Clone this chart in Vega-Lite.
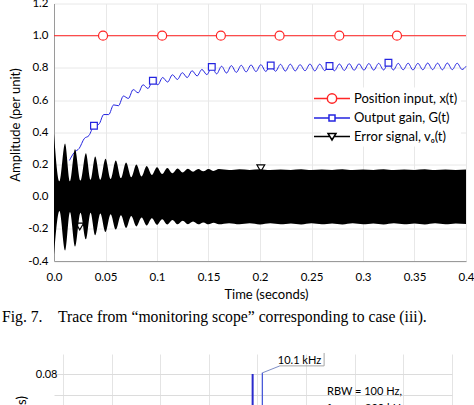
{
  "$schema": "https://vega.github.io/schema/vega-lite/v6.json",
  "autosize": {"type": "none"},
  "padding": {"left": 54, "top": 3.5, "right": 420, "bottom": 401.5},
  "background": "white",
  "bounds": "flush",
  "spacing": 92.5,
  "datasets": {
    "input": [{"t": 0, "amp": 1}, {"t": 0.4, "amp": 1}],
    "gain": [
      {"t": 0.0150, "amp": 0.225}, {"t": 0.0197, "amp": 0.275}, {"t": 0.0245, "amp": 0.30}, {"t": 0.0293, "amp": 0.36},
      {"t": 0.0340, "amp": 0.38}, {"t": 0.0388, "amp": 0.44}, {"t": 0.0436, "amp": 0.45}, {"t": 0.0483, "amp": 0.51},
      {"t": 0.0531, "amp": 0.51}, {"t": 0.0579, "amp": 0.57}, {"t": 0.0626, "amp": 0.565}, {"t": 0.0674, "amp": 0.625},
      {"t": 0.0722, "amp": 0.61}, {"t": 0.0769, "amp": 0.665}, {"t": 0.0817, "amp": 0.645}, {"t": 0.0865, "amp": 0.695},
      {"t": 0.0912, "amp": 0.672}, {"t": 0.0960, "amp": 0.72}, {"t": 0.1008, "amp": 0.695}, {"t": 0.1055, "amp": 0.74},
      {"t": 0.1103, "amp": 0.712}, {"t": 0.1150, "amp": 0.757}, {"t": 0.1198, "amp": 0.728}, {"t": 0.1246, "amp": 0.77},
      {"t": 0.1293, "amp": 0.74}, {"t": 0.1341, "amp": 0.782}, {"t": 0.1389, "amp": 0.75}, {"t": 0.1436, "amp": 0.79},
      {"t": 0.1484, "amp": 0.758}, {"t": 0.1532, "amp": 0.806}, {"t": 0.1579, "amp": 0.763}, {"t": 0.1627, "amp": 0.81},
      {"t": 0.1675, "amp": 0.768}, {"t": 0.1722, "amp": 0.814}, {"t": 0.1770, "amp": 0.772}, {"t": 0.1818, "amp": 0.816},
      {"t": 0.1865, "amp": 0.775}, {"t": 0.1913, "amp": 0.818}, {"t": 0.1961, "amp": 0.777}, {"t": 0.2008, "amp": 0.82},
      {"t": 0.2056, "amp": 0.778}, {"t": 0.2104, "amp": 0.815}, {"t": 0.2151, "amp": 0.779}, {"t": 0.2199, "amp": 0.822},
      {"t": 0.2246, "amp": 0.78}, {"t": 0.2294, "amp": 0.823}, {"t": 0.2342, "amp": 0.781}, {"t": 0.2389, "amp": 0.82},
      {"t": 0.2437, "amp": 0.782}, {"t": 0.2485, "amp": 0.824}, {"t": 0.2532, "amp": 0.781}, {"t": 0.2580, "amp": 0.823},
      {"t": 0.2628, "amp": 0.783}, {"t": 0.2675, "amp": 0.812}, {"t": 0.2723, "amp": 0.782}, {"t": 0.2771, "amp": 0.824},
      {"t": 0.2818, "amp": 0.784}, {"t": 0.2866, "amp": 0.826}, {"t": 0.2914, "amp": 0.785}, {"t": 0.2961, "amp": 0.825},
      {"t": 0.3009, "amp": 0.786}, {"t": 0.3057, "amp": 0.827}, {"t": 0.3104, "amp": 0.786}, {"t": 0.3152, "amp": 0.828},
      {"t": 0.3200, "amp": 0.787}, {"t": 0.3247, "amp": 0.832}, {"t": 0.3295, "amp": 0.787}, {"t": 0.3342, "amp": 0.828},
      {"t": 0.3390, "amp": 0.788}, {"t": 0.3438, "amp": 0.829}, {"t": 0.3485, "amp": 0.787}, {"t": 0.3533, "amp": 0.828},
      {"t": 0.3581, "amp": 0.788}, {"t": 0.3628, "amp": 0.83}, {"t": 0.3676, "amp": 0.789}, {"t": 0.3724, "amp": 0.829},
      {"t": 0.3771, "amp": 0.788}, {"t": 0.3819, "amp": 0.83}, {"t": 0.3867, "amp": 0.789}, {"t": 0.3914, "amp": 0.829},
      {"t": 0.3962, "amp": 0.79}, {"t": 0.4000, "amp": 0.81}
    ],
    "envelope": [
      {"t": 0.000, "amp": 0.39, "lo": -0.36}, {"t": 0.0053, "amp": 0.095, "lo": -0.09},
      {"t": 0.0107, "amp": 0.33, "lo": -0.335}, {"t": 0.0155, "amp": 0.095, "lo": -0.095},
      {"t": 0.0204, "amp": 0.295, "lo": -0.31}, {"t": 0.0257, "amp": 0.10, "lo": -0.10},
      {"t": 0.0310, "amp": 0.27, "lo": -0.265}, {"t": 0.0355, "amp": 0.105, "lo": -0.10},
      {"t": 0.0400, "amp": 0.25, "lo": -0.24}, {"t": 0.0450, "amp": 0.105, "lo": -0.105},
      {"t": 0.0500, "amp": 0.235, "lo": -0.22}, {"t": 0.0550, "amp": 0.11, "lo": -0.11},
      {"t": 0.0600, "amp": 0.225, "lo": -0.205}, {"t": 0.0650, "amp": 0.115, "lo": -0.115},
      {"t": 0.0700, "amp": 0.212, "lo": -0.195}, {"t": 0.0750, "amp": 0.12, "lo": -0.12},
      {"t": 0.0800, "amp": 0.20, "lo": -0.185}, {"t": 0.0850, "amp": 0.125, "lo": -0.13},
      {"t": 0.0900, "amp": 0.19, "lo": -0.18}, {"t": 0.0950, "amp": 0.135, "lo": -0.135},
      {"t": 0.1000, "amp": 0.183, "lo": -0.175}, {"t": 0.1050, "amp": 0.14, "lo": -0.14},
      {"t": 0.1100, "amp": 0.178, "lo": -0.173}, {"t": 0.1150, "amp": 0.145, "lo": -0.145},
      {"t": 0.1200, "amp": 0.175, "lo": -0.172}, {"t": 0.1250, "amp": 0.15, "lo": -0.15},
      {"t": 0.1300, "amp": 0.173, "lo": -0.172}, {"t": 0.1350, "amp": 0.155, "lo": -0.155},
      {"t": 0.1400, "amp": 0.172, "lo": -0.172}, {"t": 0.1450, "amp": 0.158, "lo": -0.16},
      {"t": 0.1500, "amp": 0.172, "lo": -0.172}, {"t": 0.1550, "amp": 0.16, "lo": -0.162},
      {"t": 0.1600, "amp": 0.171, "lo": -0.172}, {"t": 0.17, "amp": 0.165, "lo": -0.165},
      {"t": 0.18, "amp": 0.170, "lo": -0.172}, {"t": 0.19, "amp": 0.166, "lo": -0.166},
      {"t": 0.20, "amp": 0.170, "lo": -0.173}, {"t": 0.21, "amp": 0.165, "lo": -0.166},
      {"t": 0.22, "amp": 0.169, "lo": -0.172}, {"t": 0.23, "amp": 0.166, "lo": -0.167},
      {"t": 0.24, "amp": 0.170, "lo": -0.173}, {"t": 0.25, "amp": 0.165, "lo": -0.166},
      {"t": 0.26, "amp": 0.169, "lo": -0.172}, {"t": 0.27, "amp": 0.166, "lo": -0.167},
      {"t": 0.28, "amp": 0.170, "lo": -0.173}, {"t": 0.29, "amp": 0.165, "lo": -0.166},
      {"t": 0.30, "amp": 0.169, "lo": -0.172}, {"t": 0.31, "amp": 0.166, "lo": -0.167},
      {"t": 0.32, "amp": 0.170, "lo": -0.173}, {"t": 0.33, "amp": 0.165, "lo": -0.166},
      {"t": 0.34, "amp": 0.169, "lo": -0.172}, {"t": 0.35, "amp": 0.166, "lo": -0.167},
      {"t": 0.36, "amp": 0.170, "lo": -0.173}, {"t": 0.37, "amp": 0.165, "lo": -0.166},
      {"t": 0.38, "amp": 0.169, "lo": -0.172}, {"t": 0.39, "amp": 0.166, "lo": -0.167},
      {"t": 0.40, "amp": 0.168, "lo": -0.170}
    ],
    "markers": [
      {"key": "x", "series": "Position input, x(t)", "t": 0.0476, "amp": 1},
      {"key": "x", "series": "Position input, x(t)", "t": 0.105, "amp": 1},
      {"key": "x", "series": "Position input, x(t)", "t": 0.162, "amp": 1},
      {"key": "x", "series": "Position input, x(t)", "t": 0.219, "amp": 1},
      {"key": "x", "series": "Position input, x(t)", "t": 0.277, "amp": 1},
      {"key": "x", "series": "Position input, x(t)", "t": 0.333, "amp": 1},
      {"key": "G", "series": "Output gain, G(t)", "t": 0.0388, "amp": 0.44},
      {"key": "G", "series": "Output gain, G(t)", "t": 0.096, "amp": 0.72},
      {"key": "G", "series": "Output gain, G(t)", "t": 0.1532, "amp": 0.806},
      {"key": "G", "series": "Output gain, G(t)", "t": 0.2104, "amp": 0.815},
      {"key": "G", "series": "Output gain, G(t)", "t": 0.2675, "amp": 0.812},
      {"key": "G", "series": "Output gain, G(t)", "t": 0.3247, "amp": 0.832},
      {"key": "v", "series": "Error signal, vₒ(t)", "t": 0.025, "amp": -0.186},
      {"key": "v", "series": "Error signal, vₒ(t)", "t": 0.0836, "amp": 0.03},
      {"key": "v", "series": "Error signal, vₒ(t)", "t": 0.1422, "amp": -0.06},
      {"key": "v", "series": "Error signal, vₒ(t)", "t": 0.2008, "amp": 0.176},
      {"key": "v", "series": "Error signal, vₒ(t)", "t": 0.2594, "amp": 0.08},
      {"key": "v", "series": "Error signal, vₒ(t)", "t": 0.318, "amp": -0.09},
      {"key": "v", "series": "Error signal, vₒ(t)", "t": 0.3766, "amp": 0.04}
    ],
    "spikes": [
      {"freq": 9.9, "amp": 0.0803, "which": "a"},
      {"freq": 10.1, "amp": 0.0808, "which": "b"}
    ],
    "callout": [
      {"part": "leader", "freq": 10.1, "amp": 0.0808, "freq2": 10.46, "amp2": 0.0842},
      {"part": "box", "freq": 10.46, "amp": 0.0842, "freq2": 11.37, "amp2": 0.0842},
      {"part": "box", "freq": 11.37, "amp": 0.0842, "freq2": 11.37, "amp2": 0.0905}
    ],
    "notes": [
      {"side": "right", "freq": 11.31, "amp": 0.0868, "label": "10.1 kHz"},
      {"side": "left", "freq": 11.43, "amp": 0.0714, "label": "RBW = 100 Hz,"},
      {"side": "left", "freq": 11.43, "amp": 0.0631, "label": "fₛₐₘₚₗₑ = 800 kHz"}
    ]
  },
  "vconcat": [
    {
      "width": 412,
      "height": 257.5,
      "encoding": {
        "x": {
          "field": "t", "type": "quantitative",
          "scale": {"domain": [0, 0.4], "nice": false, "zero": false},
          "axis": {
            "title": "Time (seconds)",
            "values": [0, 0.05, 0.1, 0.15, 0.2, 0.25, 0.3, 0.35, 0.4],
            "labelExpr": "datum.value === 0 ? '0.0' : format(datum.value, '~g')",
            "labelFlush": false, "labelOverlap": false,
            "labelFontSize": 11.5, "labelPadding": 10.5,
            "ticks": false, "tickSize": 0,
            "domainColor": "#9a9a9a",
            "grid": true, "gridColor": "#e8e8e8",
            "titleFontSize": 13, "titleX": 212, "titleY": 33,
            "titleAlign": "center", "titleBaseline": "middle"
          }
        },
        "y": {
          "field": "amp", "type": "quantitative",
          "scale": {"domain": [-0.4, 1.2], "nice": false, "zero": false},
          "axis": {
            "title": "Amplitude (per unit)",
            "values": [-0.4, -0.2, 0, 0.2, 0.4, 0.6, 0.8, 1, 1.2],
            "labelExpr": "replace(format(datum.value, '.1f'), '\u2212', '-')",
            "labelFontSize": 11.5, "labelPadding": 6,
            "ticks": false, "tickSize": 0,
            "domainColor": "#9a9a9a",
            "grid": true, "gridColor": "#e8e8e8",
            "titleFontSize": 13, "titleX": -39, "titleY": 121, "titleAngle": -90,
            "titleAlign": "center", "titleBaseline": "middle"
          }
        }
      },
      "layer": [
        {
          "data": {"name": "gain"},
          "mark": {"type": "line", "color": "#2424e0", "strokeWidth": 1, "interpolate": "monotone"}
        },
        {
          "data": {"name": "input"},
          "mark": {"type": "line", "color": "#ff2626", "strokeWidth": 1}
        },
        {
          "data": {"name": "markers"},
          "transform": [{"filter": "datum.key === 'x'"}],
          "mark": {"type": "point", "shape": "circle", "size": 81, "filled": true, "fill": "white", "stroke": "#ff2626", "strokeWidth": 1.2, "opacity": 1}
        },
        {
          "data": {"name": "markers"},
          "transform": [{"filter": "datum.key === 'G'"}],
          "mark": {"type": "point", "shape": "square", "size": 45, "filled": true, "fill": "white", "stroke": "#2424e0", "strokeWidth": 1.2, "opacity": 1}
        },
        {
          "data": {"name": "markers"},
          "transform": [{"filter": "datum.key === 'v'"}],
          "mark": {"type": "point", "shape": "triangle-down", "size": 60, "filled": true, "fill": "white", "stroke": "#000000", "strokeWidth": 1.2, "opacity": 1}
        },
        {
          "data": {"name": "envelope"},
          "mark": {"type": "area", "color": "#000000", "interpolate": "monotone", "opacity": 1},
          "encoding": {"y2": {"field": "lo"}}
        },
        {
          "data": {"name": "markers"},
          "transform": [{"filter": "false"}],
          "mark": {"type": "point", "filled": true, "fill": "white", "strokeWidth": 1.5, "opacity": 1},
          "encoding": {
            "stroke": {
              "field": "series", "type": "nominal",
              "scale": {
                "domain": ["Position input, x(t)", "Output gain, G(t)", "Error signal, vₒ(t)"],
                "range": ["#ff2626", "#2424e0", "#000000"]
              },
              "legend": {
                "orient": "none", "legendX": 267, "legendY": 84, "title": null,
                "symbolSize": 196, "symbolStrokeWidth": 1.5, "symbolFillColor": "white",
                "labelFont": "Lato", "labelFontSize": 13, "labelColor": "#000000",
                "labelOffset": 14, "rowPadding": 3.5, "padding": 3, "fillColor": "white",
                "encode": {"symbols": {"update": {"fill": {"value": "white"}, "strokeWidth": {"value": 1.5}, "opacity": {"value": 1}}}}
              }
            },
            "shape": {
              "field": "series", "type": "nominal",
              "scale": {
                "domain": ["Position input, x(t)", "Output gain, G(t)", "Error signal, vₒ(t)"],
                "range": [
                  "M-2.57,0H-0.67M0.67,0H2.57M0.67,0A0.67,0.67,0,1,1,-0.67,0A0.67,0.67,0,1,1,0.67,0Z",
                  "M-2.57,0H-0.43M0.43,0H2.57M-0.43,-0.43H0.43V0.43H-0.43Z",
                  "M-2.57,0H-0.35M0.35,0H2.57M-0.57,-0.43H0.57L0,0.5Z"
                ]
              },
              "legend": {
                "orient": "none", "legendX": 267, "legendY": 84, "title": null,
                "symbolSize": 196, "symbolStrokeWidth": 1.5, "symbolFillColor": "white",
                "labelFont": "Lato", "labelFontSize": 13, "labelColor": "#000000",
                "labelOffset": 14, "rowPadding": 3.5, "padding": 3, "fillColor": "white",
                "encode": {"symbols": {"update": {"fill": {"value": "white"}, "strokeWidth": {"value": 1.5}, "opacity": {"value": 1}}}}
              }
            }
          }
        }
      ]
    },
    {
      "width": 398,
      "height": 61.5,
      "title": {
        "text": "Fig. 7.\u00a0\u00a0\u00a0 Trace from \u201cmonitoring scope\u201d corresponding to case (iii).",
        "anchor": "start", "frame": "group", "dx": -52, "offset": 15,
        "baseline": "alphabetic", "font": "Liberation Serif", "fontSize": 15.7,
        "fontWeight": "normal", "color": "#000000"
      },
      "encoding": {
        "x": {
          "field": "freq", "type": "quantitative",
          "scale": {"domain": [5.815, 14], "nice": false, "zero": false},
          "axis": {
            "title": null, "values": [6, 7, 8, 9, 10, 11, 12, 13, 14],
            "labels": false, "ticks": false, "domain": false,
            "grid": true, "gridColor": "#e4e4e4"
          }
        },
        "y": {
          "field": "amp", "type": "quantitative",
          "scale": {"domain": [0.06, 0.09], "nice": false, "zero": false},
          "axis": {
            "title": "Amplitude (Vrms)", "values": [0.07, 0.08],
            "labelExpr": "datum.value > 0.075 ? format(datum.value, '.2f') : ''",
            "labelFontSize": 11, "labelPadding": -3, "ticks": false, "tickSize": 0, "domain": false,
            "grid": true, "gridColor": "#dcdcdc",
            "titleFontSize": 13, "titleX": -32.5, "titleY": 90.7, "titleAngle": -90,
            "titleAlign": "center", "titleBaseline": "middle"
          }
        }
      },
      "layer": [
        {
          "data": {"name": "spikes"},
          "transform": [{"filter": "datum.which === 'a'"}],
          "mark": {"type": "rule", "color": "#2a2acc", "strokeWidth": 2, "clip": true},
          "encoding": {"y2": {"datum": 0}}
        },
        {
          "data": {"name": "spikes"},
          "transform": [{"filter": "datum.which === 'b'"}],
          "mark": {"type": "rule", "color": "#4a5ad8", "strokeWidth": 1.3, "clip": true},
          "encoding": {"y2": {"datum": 0}}
        },
        {
          "data": {"name": "callout"},
          "transform": [{"filter": "datum.part === 'leader'"}],
          "mark": {"type": "rule", "color": "#7d8cc4", "strokeWidth": 1},
          "encoding": {"x2": {"field": "freq2"}, "y2": {"field": "amp2"}}
        },
        {
          "data": {"name": "callout"},
          "transform": [{"filter": "datum.part === 'box'"}],
          "mark": {"type": "rule", "color": "#a6a6a6", "strokeWidth": 1},
          "encoding": {"x2": {"field": "freq2"}, "y2": {"field": "amp2"}}
        },
        {
          "data": {"name": "notes"},
          "transform": [{"filter": "datum.side === 'right'"}],
          "mark": {"type": "text", "align": "right", "baseline": "middle", "font": "Lato", "fontSize": 11, "color": "#000000"},
          "encoding": {"text": {"field": "label"}}
        },
        {
          "data": {"name": "notes"},
          "transform": [{"filter": "datum.side === 'left'"}],
          "mark": {"type": "text", "align": "left", "baseline": "middle", "font": "Lato", "fontSize": 11, "color": "#000000"},
          "encoding": {"text": {"field": "label"}}
        }
      ]
    }
  ],
  "config": {
    "view": {"stroke": null},
    "axis": {"labelFont": "Lato", "titleFont": "Lato", "labelColor": "#000000", "titleColor": "#000000", "titleFontWeight": "normal"}
  }
}
